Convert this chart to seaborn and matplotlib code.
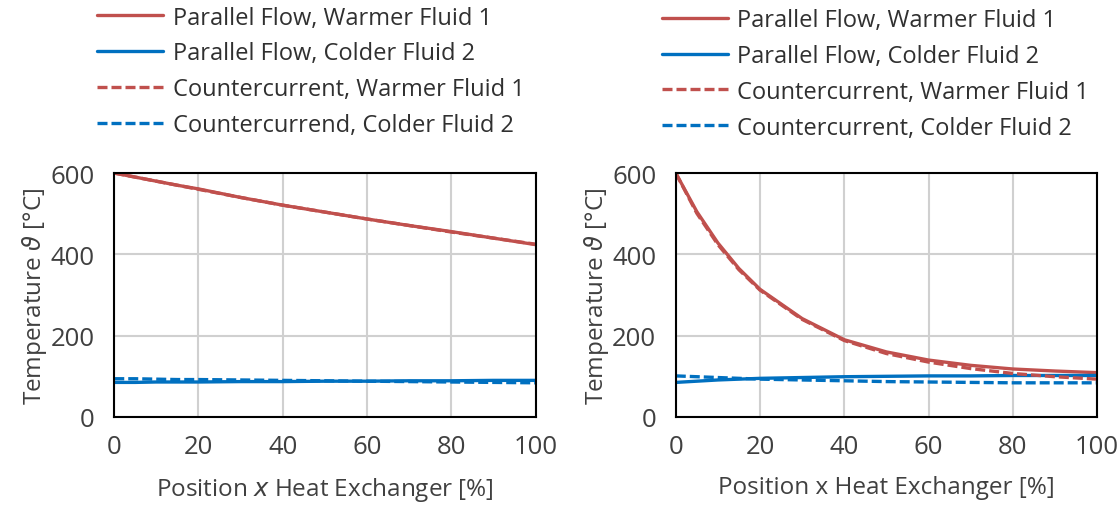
import matplotlib.pyplot as plt
import pandas as pd
import seaborn as sns

# Data
POSITION = [0, 5, 10, 15, 20, 30, 40, 50, 60, 70, 80, 90, 100]

# Left panel
LEFT_PAR_WARM = [600, 590, 580, 570, 561, 540, 521, 504, 487, 471, 456, 440, 424]
LEFT_PAR_COLD = [85, 85, 86, 86, 86, 87, 87, 88, 88, 89, 89, 90, 90]
LEFT_CC_WARM = [600, 590, 580, 570, 560, 540, 521, 504, 487, 471, 455, 440, 425]
LEFT_CC_COLD = [94, 94, 93, 92, 92, 91, 90, 89, 88, 87, 86, 85, 84]

# Right panel
RIGHT_PAR_WARM = [600, 505, 428, 365, 314, 242, 190, 160, 140, 127, 118, 113, 109]
RIGHT_PAR_COLD = [85, 88, 91, 93, 95, 97, 99, 100, 101, 101, 102, 102, 102]
RIGHT_CC_WARM = [600, 501, 424, 362, 312, 240, 188, 156, 135, 119, 107, 99, 93]
RIGHT_CC_COLD = [101, 99, 97, 95, 93, 91, 89, 87, 86, 85, 84, 84, 84]

LEFT_LABELS = ["Parallel Flow, Warmer Fluid 1", "Parallel Flow, Colder Fluid 2",
               "Countercurrent, Warmer Fluid 1", "Countercurrend, Colder Fluid 2"]
RIGHT_LABELS = ["Parallel Flow, Warmer Fluid 1", "Parallel Flow, Colder Fluid 2",
                "Countercurrent, Warmer Fluid 1", "Countercurrent, Colder Fluid 2"]

RED = "#C0504D"
BLUE = "#0070C0"


def to_long(series, labels):
    frames = []
    for values, label in zip(series, labels):
        frames.append(pd.DataFrame({"x": POSITION, "T": values, "series": label}))
    return pd.concat(frames, ignore_index=True)


def draw_panel(ax, df, labels, xlabel, legend_anchor):
    palette = dict(zip(labels, [RED, BLUE, RED, BLUE]))
    dashes = dict(zip(labels, ["", "", (3, 1.2), (3, 1.2)]))
    sns.lineplot(data=df, x="x", y="T", hue="series", style="series",
                 palette=palette, dashes=dashes, linewidth=2.4, ax=ax)
    ax.set_xlim(0, 100)
    ax.set_ylim(0, 600)
    ax.set_xticks(range(0, 101, 20))
    ax.set_yticks(range(0, 601, 200))
    ax.grid(True, color="#D0D0D0", linewidth=1.5)
    ax.set_axisbelow(True)
    for s in ax.spines.values():
        s.set_color("black")
        s.set_linewidth(1.5)
    ax.tick_params(direction="in", length=5, width=1.5, labelsize=18.5,
                   colors="black", labelcolor="#404040")
    ax.tick_params(axis="x", pad=12)
    ax.tick_params(axis="y", pad=14)
    ax.set_xlabel(xlabel, fontsize=17.5, color="#404040", labelpad=12)
    ax.set_ylabel(r"Temperature $\vartheta$ [°C]", fontsize=17.5, color="#404040", labelpad=1)
    handles, _ = ax.get_legend_handles_labels()
    ax.legend(handles, labels, loc="upper left", bbox_to_anchor=legend_anchor,
              bbox_transform=ax.figure.transFigure, frameon=False, fontsize=17,
              handlelength=2.8, labelspacing=0.5, handletextpad=0.4,
              labelcolor="#303030", borderaxespad=0, borderpad=0)


sns.set_theme(style="white")
plt.rcParams["font.family"] = ["Open Sans", "DejaVu Sans"]
plt.rcParams["mathtext.fontset"] = "dejavusans"

fig, (ax1, ax2) = plt.subplots(1, 2, figsize=(11.2, 5.06), dpi=100)
fig.subplots_adjust(left=0.102, right=0.9795, bottom=0.174, top=0.656, wspace=0.333)

left_df = to_long([LEFT_PAR_WARM, LEFT_PAR_COLD, LEFT_CC_WARM, LEFT_CC_COLD], LEFT_LABELS)
right_df = to_long([RIGHT_PAR_WARM, RIGHT_PAR_COLD, RIGHT_CC_WARM, RIGHT_CC_COLD], RIGHT_LABELS)

draw_panel(ax1, left_df, LEFT_LABELS, r"Position $x$ Heat Exchanger [%]", (0.0866, 0.987))
draw_panel(ax2, right_df, RIGHT_LABELS, "Position x Heat Exchanger [%]", (0.591, 0.982))

fig.savefig("out.png", dpi=100)
